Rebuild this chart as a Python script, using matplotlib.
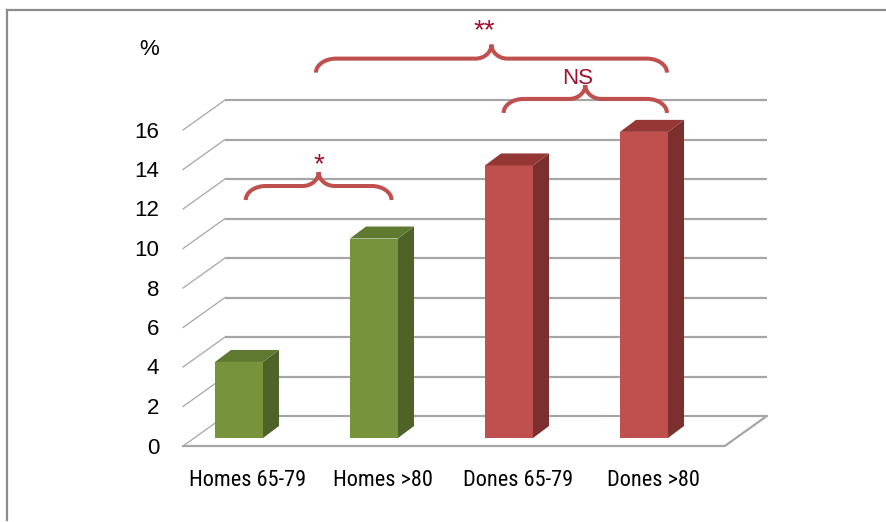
import matplotlib
matplotlib.use("Agg")
import matplotlib.pyplot as plt
from matplotlib.patches import Polygon, PathPatch
from matplotlib.path import Path
from matplotlib import font_manager

# ---- data -------------------------------------------------------------
categories = ["Homes 65-79", "Homes >80", "Dones 65-79", "Dones >80"]
values = [3.85, 10.1, 13.8, 15.5]
groups = ["Homes", "Homes", "Dones", "Dones"]
y_ticks = [0, 2, 4, 6, 8, 10, 12, 14, 16]
y_unit = "%"

# significance brackets: left x, right x, height of the tips, label
bracket_left = [0.05, 1.96, 0.57]
bracket_right = [1.13, 3.17, 3.17]
bracket_level = [12.05, 16.46, 18.5]
bracket_labels = ["*", "NS", "**"]

# ---- style ------------------------------------------------------------
colors = {
    "Homes": {"front": "#77933C", "side": "#4F6228", "top": "#5F7A30"},
    "Dones": {"front": "#C0504D", "side": "#7B302F", "top": "#953735"},
}
grid_color = "#A6A6A6"
brace_color = "#C0504D"
sig_color = "#A50F2D"

fonts = font_manager.fontManager.ttflist
names = {f.name for f in fonts}
base_font = "Liberation Sans" if "Liberation Sans" in names else "DejaVu Sans"
plt.rcParams["font.family"] = [base_font, "DejaVu Sans"]

# narrow face for the category labels
cat_kw = {"family": [base_font, "DejaVu Sans"], "fontsize": 13.5}
for cand in ["Liberation Sans Narrow", "Roboto Condensed", "Open Sans Condensed"]:
    if cand in names:
        cat_kw = {"family": [cand, "DejaVu Sans"], "fontsize": 16}
        break
else:
    if any(f.name == "DejaVu Sans" and f.stretch == "condensed" for f in fonts):
        cat_kw = {"family": ["DejaVu Sans"], "fontstretch": "condensed",
                  "fontsize": 14}

W, H = 887, 522
fig = plt.figure(figsize=(W / 100, H / 100), dpi=100)
fig.patch.set_facecolor("white")

# plot plane of the bar fronts: category i centred at 239 + 135 i px,
# value v at 84 + 19.75 v px from the bottom edge
ax = fig.add_axes([104 / W, 84 / H, 675 / W, 22 * 19.75 / H])
ax.set_xlim(-1, 4)
ax.set_ylim(0, 22)
ax.axis("off")

o = ax.transData.transform((0, 0))
sx = ax.transData.transform((1, 0))[0] - o[0]
sy = ax.transData.transform((0, 1))[1] - o[1]


def px(dx, dy):
    """pixel offset -> data offset"""
    return dx / sx, dy / sy


bar_w = 48 / sx
bdx, bdy = px(16, 12)          # bar depth
fx, fy = px(-11, -8)           # front edge of the floor
wx, wy = px(31, 22)            # back wall
x_lo, x_hi = -0.333, 3.68      # extent of the floor / wall

# back wall gridlines and left-side diagonals
for v in y_ticks:
    ax.plot([x_lo + wx, x_hi + wx], [v + wy, v + wy], color=grid_color,
            lw=1.6, solid_capstyle="butt", zorder=1, clip_on=False)
    ax.plot([x_lo + fx, x_lo + wx], [v + fy, v + wy], color=grid_color,
            lw=0.9, zorder=1, clip_on=False)
    ax.text(x_lo + fx - 24 / sx, v + fy - 2 / sy, str(v), ha="right",
            va="center", fontsize=16, color="black")

# floor outline
ax.plot([x_lo + fx, x_hi + fx, x_hi + wx], [fy, fy, wy], color=grid_color,
        lw=1.6, zorder=1, solid_joinstyle="miter", clip_on=False)

# unit label
ax.text(x_lo + fx - 34 / sx, 19.65, y_unit, ha="center", va="center",
        fontsize=16, color="black")

# pseudo-3D columns
for i, (cat, v, g) in enumerate(zip(categories, values, groups)):
    c = colors[g]
    x0, x1 = i - bar_w / 2, i + bar_w / 2
    ax.add_patch(Polygon([(x0, 0), (x1, 0), (x1, v), (x0, v)], closed=True,
                         facecolor=c["front"], edgecolor="none", zorder=3))
    ax.add_patch(Polygon([(x1, 0), (x1 + bdx, bdy), (x1 + bdx, v + bdy), (x1, v)],
                         closed=True, facecolor=c["side"], edgecolor="none", zorder=3))
    ax.add_patch(Polygon([(x0, v), (x1, v), (x1 + bdx, v + bdy), (x0 + bdx, v + bdy)],
                         closed=True, facecolor=c["top"], edgecolor="none", zorder=3))
    ax.text(i + 9 / sx, -42 / sy, cat, ha="center", va="center",
            color="black", **cat_kw)


# curly braces with significance marks
def brace(xa, xb, y0, label, dx_txt, dy_txt):
    L = (xb - xa) * sx
    h, r, rc = 14.0, 20.0, 16.0
    m = L / 2
    pts = [
        (0, 0), (0, 0.55 * h), (0.45 * r, h), (r, h),
        (m - rc, h),
        (m - 0.45 * rc, h), (m, 1.45 * h), (m, 2 * h),
        (m, 1.45 * h), (m + 0.45 * rc, h), (m + rc, h),
        (L - r, h),
        (L - 0.45 * r, h), (L, 0.55 * h), (L, 0),
    ]
    codes = [Path.MOVETO, Path.CURVE4, Path.CURVE4, Path.CURVE4,
             Path.LINETO,
             Path.CURVE4, Path.CURVE4, Path.CURVE4,
             Path.CURVE4, Path.CURVE4, Path.CURVE4,
             Path.LINETO,
             Path.CURVE4, Path.CURVE4, Path.CURVE4]
    verts = [(xa + X / sx, y0 + Y / sy) for X, Y in pts]
    ax.add_patch(PathPatch(Path(verts, codes), facecolor="none",
                           edgecolor=brace_color, lw=2.9, capstyle="butt",
                           zorder=4, clip_on=False))
    ax.text(xa + (m + dx_txt) / sx, y0 + (2 * h + dy_txt) / sy, label,
            ha="center", va="baseline", color=sig_color,
            fontsize=16 if label == "NS" else 20, zorder=5)


txt_offsets = {"*": (0, 0), "NS": (-8, 1), "**": (-7, 6)}
for xa, xb, yl, lab in zip(bracket_left, bracket_right, bracket_level, bracket_labels):
    brace(xa, xb, yl, lab, *txt_offsets[lab])

# chart-area frame (top and left edges)
fig.add_artist(plt.Line2D([7 / W, 7 / W], [2 / H, 1 - 10 / H], color="#8C8C8C",
                          lw=1.6, transform=fig.transFigure))
fig.add_artist(plt.Line2D([7 / W, 1], [1 - 10 / H, 1 - 10 / H], color="#8C8C8C",
                          lw=1.6, transform=fig.transFigure))

fig.savefig("out.png", dpi=100, facecolor="white")
